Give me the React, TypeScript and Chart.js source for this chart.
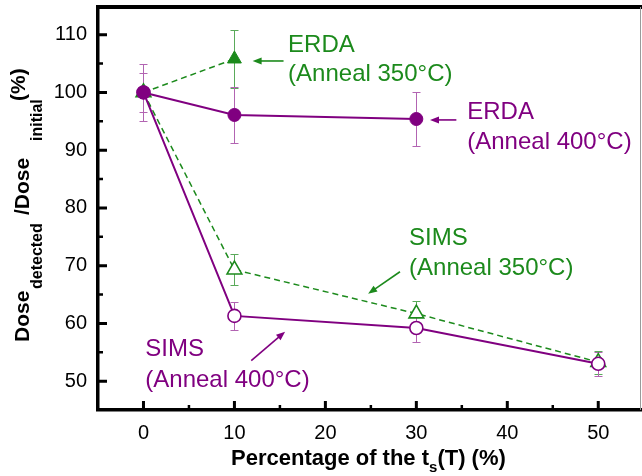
import React, { useEffect, useRef } from 'react';
import { Chart, registerables } from 'chart.js';

Chart.register(...registerables);

// ---- data ----
const X_TICKS = [0, 10, 20, 30, 40, 50];
const Y_TICKS = [50, 60, 70, 80, 90, 100, 110];
const X_MINOR = [5, 15, 25, 35, 45];
const Y_MINOR = [55, 65, 75, 85, 95, 105];

const ERDA400_X = [0, 10, 30];
const ERDA400_Y = [100, 96.1, 95.4];
const ERDA400_ERR = [4.9, 4.8, 4.7];

const ERDA350_X = [0, 10];
const ERDA350_Y = [100, 105.8];
const ERDA350_ERR = [0, 5.0];

const SIMS400_X = [0, 10, 30, 50];
const SIMS400_Y = [100, 61.3, 59.2, 53.0];
const SIMS400_ERR = [3.3, 2.4, 2.5, 2.1];

const SIMS350_X = [0, 10, 30, 50];
const SIMS350_Y = [100, 69.3, 61.7, 53.3];
const SIMS350_ERR = [0, 2.7, 2.1, 2.0];

// ---- styles ----
const PURPLE = '#800080';
const GREEN = '#1c8a1c';
const PURPLE_ERR = '#b264b2';
const GREEN_ERR = '#5aaa5a';
const FONT = "'Liberation Sans', Arial, Helvetica, sans-serif";

// annotation placement (data coordinates)
const NOTES = [
  { lines: ['ERDA', '(Anneal 350°C)'], x: 15.9, ys: [107.0, 102.0], color: GREEN },
  { lines: ['ERDA', '(Anneal 400°C)'], x: 35.6, ys: [95.4, 90.2], color: PURPLE },
  { lines: ['SIMS', '(Anneal 350°C)'], x: 29.2, ys: [73.6, 68.4], color: GREEN },
  { lines: ['SIMS', '(Anneal 400°C)'], x: 0.2, ys: [54.4, 49.0], color: PURPLE },
];
const ARROWS = [
  { from: [15.4, 105.45], to: [12.0, 105.45], color: GREEN },
  { from: [34.4, 95.24], to: [31.5, 95.24], color: PURPLE },
  { from: [28.2, 68.94], to: [24.7, 65.14], color: GREEN },
  { from: [11.85, 53.55], to: [15.57, 58.57], color: PURPLE },
];

export default function App() {
  const ref = useRef<HTMLCanvasElement>(null);

  useEffect(() => {
    const canvas = ref.current!;
    const series = [
      { label: 'ERDA (Anneal 400°C)', xs: ERDA400_X, ys: ERDA400_Y, err: ERDA400_ERR, color: PURPLE, errColor: PURPLE_ERR, style: 'circle', filled: true, dash: [] as number[], radius: 6.5, width: 2 },
      { label: 'SIMS (Anneal 400°C)', xs: SIMS400_X, ys: SIMS400_Y, err: SIMS400_ERR, color: PURPLE, errColor: PURPLE_ERR, style: 'circle', filled: false, dash: [] as number[], radius: 6.5, width: 2 },
      { label: 'ERDA (Anneal 350°C)', xs: ERDA350_X, ys: ERDA350_Y, err: ERDA350_ERR, color: GREEN, errColor: GREEN_ERR, style: 'triangle', filled: true, dash: [6, 4], radius: 8, width: 1.5 },
      { label: 'SIMS (Anneal 350°C)', xs: SIMS350_X, ys: SIMS350_Y, err: SIMS350_ERR, color: GREEN, errColor: GREEN_ERR, style: 'triangle', filled: false, dash: [6, 4], radius: 8.5, width: 1.5 },
    ];

    const datasets = series.map((s) => ({
      label: s.label,
      data: s.xs.map((x, i) => ({ x, y: s.ys[i] })),
      borderColor: s.color,
      backgroundColor: s.color,
      borderWidth: s.width,
      borderDash: s.dash,
      pointStyle: s.style,
      pointRadius: s.radius,
      pointBackgroundColor: s.filled ? s.color : '#ffffff',
      pointBorderColor: s.color,
      pointBorderWidth: s.filled ? 1 : 1.6,
      showLine: true,
      fill: false,
      tension: 0,
    }));

    const errorBars = {
      id: 'errorBars',
      beforeDatasetsDraw(chart: any) {
        const { ctx, scales } = chart;
        const x = scales.x, y = scales.y;
        ctx.save();
        ctx.lineWidth = 1;
        for (let k = series.length - 1; k >= 0; k--) {
          const s = series[k];
          ctx.strokeStyle = s.errColor;
          s.xs.forEach((xv, i) => {
            const e = s.err[i];
            if (!e) return;
            const px = Math.round(x.getPixelForValue(xv)) + 0.5;
            const top = Math.round(y.getPixelForValue(s.ys[i] + e)) + 0.5;
            const bot = Math.round(y.getPixelForValue(s.ys[i] - e)) + 0.5;
            ctx.beginPath();
            ctx.moveTo(px, top); ctx.lineTo(px, bot);
            ctx.moveTo(px - 4, top); ctx.lineTo(px + 4, top);
            ctx.moveTo(px - 4, bot); ctx.lineTo(px + 4, bot);
            ctx.stroke();
          });
        }
        ctx.restore();
      },
    };

    const frame = {
      id: 'frame',
      afterDraw(chart: any) {
        const { ctx, chartArea: a, scales } = chart;
        const x = scales.x, y = scales.y;
        ctx.save();
        // top thick line
        ctx.strokeStyle = '#000';
        ctx.lineWidth = 4;
        ctx.beginPath(); ctx.moveTo(a.left - 2, a.top); ctx.lineTo(a.right + 1, a.top); ctx.stroke();
        // right thin line
        ctx.strokeStyle = '#9a9a9a';
        ctx.lineWidth = 1;
        ctx.beginPath(); ctx.moveTo(a.right - 0.5, a.top); ctx.lineTo(a.right - 0.5, a.bottom); ctx.stroke();
        // inward ticks
        ctx.strokeStyle = '#000';
        ctx.lineWidth = 3;
        ctx.beginPath();
        Y_TICKS.forEach((v) => { const py = y.getPixelForValue(v); ctx.moveTo(a.left, py); ctx.lineTo(a.left + 9, py); });
        X_TICKS.forEach((v) => { const px = x.getPixelForValue(v); ctx.moveTo(px, a.bottom); ctx.lineTo(px, a.bottom - 9); });
        ctx.stroke();
        ctx.lineWidth = 2.5;
        ctx.beginPath();
        Y_MINOR.forEach((v) => { const py = y.getPixelForValue(v); ctx.moveTo(a.left, py); ctx.lineTo(a.left + 5, py); });
        X_MINOR.forEach((v) => { const px = x.getPixelForValue(v); ctx.moveTo(px, a.bottom); ctx.lineTo(px, a.bottom - 5); });
        ctx.stroke();

        // annotations
        ctx.font = `24px ${FONT}`;
        ctx.textAlign = 'left';
        ctx.textBaseline = 'alphabetic';
        NOTES.forEach((n) => {
          ctx.fillStyle = n.color;
          n.lines.forEach((t, i) => ctx.fillText(t, x.getPixelForValue(n.x), y.getPixelForValue(n.ys[i])));
        });
        ARROWS.forEach((ar) => {
          const x1 = x.getPixelForValue(ar.from[0]), y1 = y.getPixelForValue(ar.from[1]);
          const x2 = x.getPixelForValue(ar.to[0]), y2 = y.getPixelForValue(ar.to[1]);
          const ang = Math.atan2(y2 - y1, x2 - x1);
          const hl = 9, hw = 3.5;
          ctx.strokeStyle = ar.color; ctx.fillStyle = ar.color; ctx.lineWidth = 1.6;
          ctx.beginPath();
          ctx.moveTo(x1, y1);
          ctx.lineTo(x2 - Math.cos(ang) * hl * 0.8, y2 - Math.sin(ang) * hl * 0.8);
          ctx.stroke();
          ctx.beginPath();
          ctx.moveTo(x2, y2);
          ctx.lineTo(x2 - Math.cos(ang) * hl - Math.sin(ang) * hw, y2 - Math.sin(ang) * hl + Math.cos(ang) * hw);
          ctx.lineTo(x2 - Math.cos(ang) * hl + Math.sin(ang) * hw, y2 - Math.sin(ang) * hl - Math.cos(ang) * hw);
          ctx.closePath();
          ctx.fill();
        });

        // x-axis title
        ctx.fillStyle = '#000';
        const big = `bold 22px ${FONT}`, small = `bold 15px ${FONT}`;
        const p1 = 'Percentage of the t', p2 = 's', p3 = '(T) (%)';
        ctx.font = big; const w1 = ctx.measureText(p1).width; const w3 = ctx.measureText(p3).width;
        ctx.font = small; const w2 = ctx.measureText(p2).width;
        let tx = 231;
        const tb = 465;
        ctx.font = big; ctx.fillText(p1, tx, tb); tx += w1;
        ctx.font = small; ctx.fillText(p2, tx, tb + 7); tx += w2;
        ctx.font = big; ctx.fillText(p3, tx, tb);

        // y-axis title (rotated)
        const segs = [
          { t: 'Dose', start: 342, font: `bold 21px ${FONT}`, v: 0 },
          { t: 'detected', start: 289, font: `bold 16px ${FONT}`, v: 13 },
          { t: '/Dose', start: 215, font: `bold 21px ${FONT}`, v: 0 },
          { t: 'initial', start: 141, font: `bold 16px ${FONT}`, v: 13 },
          { t: '(%)', start: 101, font: `bold 21px ${FONT}`, v: -4 },
        ];
        const bx = 29;
        segs.forEach((sg) => {
          ctx.save();
          ctx.translate(bx, sg.start);
          ctx.rotate(-Math.PI / 2);
          ctx.font = sg.font;
          ctx.fillText(sg.t, 0, sg.v);
          ctx.restore();
        });
        ctx.restore();
      },
    };

    const chart = new Chart(canvas, {
      type: 'scatter',
      data: { datasets: datasets as any },
      options: {
        animation: false,
        responsive: false,
        events: [],
        layout: { autoPadding: false, padding: { left: 8, top: 7, right: 1, bottom: 0 } },
        plugins: { legend: { display: false }, tooltip: { enabled: false } },
        scales: {
          x: {
            type: 'linear',
            min: -5,
            max: 54.7,
            afterBuildTicks: (s: any) => { s.ticks = X_TICKS.map((v) => ({ value: v })); },
            afterFit: (s: any) => { s.height = 66; s.paddingLeft = 0; s.paddingRight = 0; },
            grid: { display: true, drawOnChartArea: false, drawTicks: false, color: 'rgba(0,0,0,0)' },
            border: { display: true, color: '#000', width: 3.5 },
            ticks: { color: '#000', font: { family: FONT, size: 20 }, padding: 11, maxRotation: 0, callback: (v: any) => String(v) },
          },
          y: {
            type: 'linear',
            min: 45,
            max: 114.8,
            afterBuildTicks: (s: any) => { s.ticks = Y_TICKS.map((v) => ({ value: v })); },
            afterFit: (s: any) => { s.width = 90; s.paddingTop = 0; s.paddingBottom = 0; },
            grid: { display: true, drawOnChartArea: false, drawTicks: false, color: 'rgba(0,0,0,0)' },
            border: { display: true, color: '#000', width: 3.5 },
            ticks: { color: '#000', font: { family: FONT, size: 20 }, padding: 11, callback: (v: any) => String(v) },
          },
        },
      },
      plugins: [errorBars, frame],
    });

    return () => chart.destroy();
  }, []);

  return (
    <div style={{ position: 'absolute', left: 0, top: 0, width: 642, height: 476, background: '#fff' }}>
      <canvas ref={ref} width={642} height={476} style={{ display: 'block' }} />
    </div>
  );
}
